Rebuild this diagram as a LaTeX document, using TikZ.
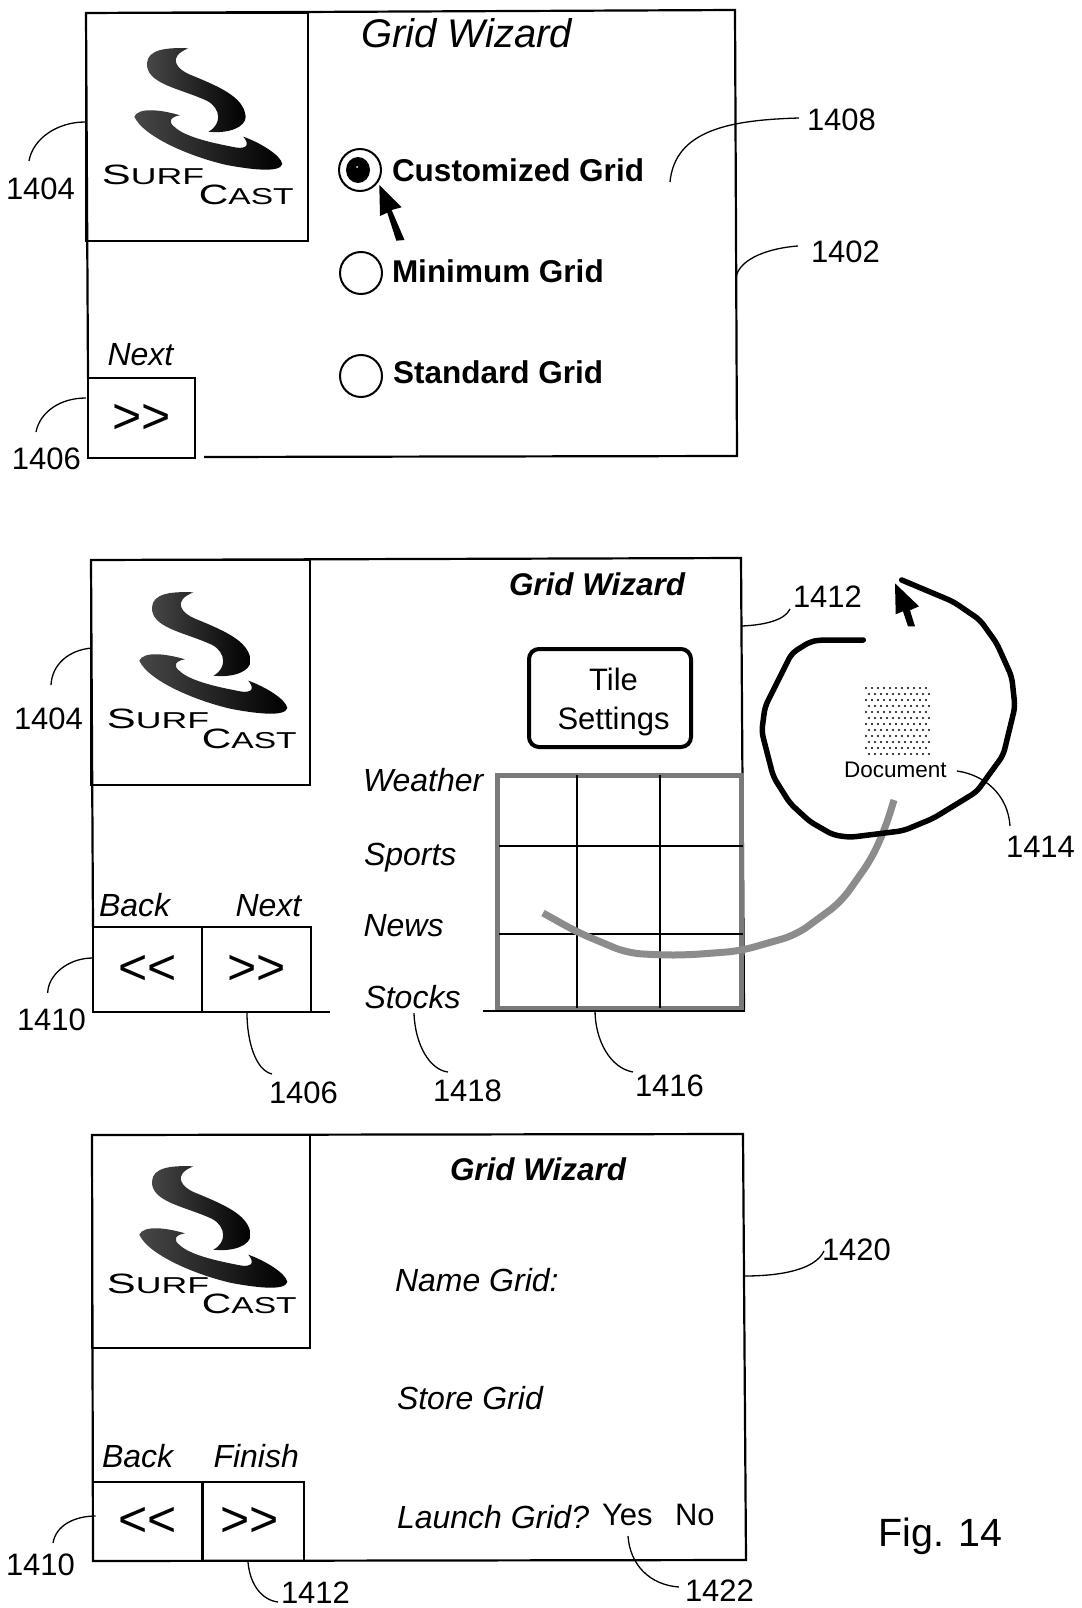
\documentclass[tikz,border=0pt]{standalone}
\usepackage{fontspec}
\setmainfont{Liberation Sans}
\newcommand\fsz[1]{\fontsize{#1}{#1}\selectfont}
\tikzset{
  frameline/.style={draw=black,line width=2.2pt},
  txt/.style={anchor=base west,inner sep=0pt,outer sep=0pt,font=\fsz{31}},
  num/.style={txt},
  ital/.style={txt,font=\fsz{32}\itshape},
  boldtxt/.style={txt,font=\fsz{31.5}\bfseries},
  btn/.style={draw=black,line width=2.2pt,inner sep=0pt,font=\fsz{50},text height=30pt,text depth=0pt,align=center},
  radio/.style={draw=black,line width=2pt,circle,minimum size=42pt,inner sep=0pt},
  logobox/.style={draw=black,line width=2.2pt,rectangle,inner sep=0pt},
  leader/.style={draw=black,line width=1.3pt},
  dragline/.style={draw=black!45,line width=7pt,line join=round},
  bigloop/.style={draw=black,line width=5.5pt,rounded corners=6pt,line cap=round},
  gridband/.style={draw=black!52,line width=5pt},
  gridline/.style={draw=black,line width=2pt},
}
% name, origin x, origin y, CAST shift x, text shift y (crop units)
\newcommand\surflogo[5]{%
  \begin{scope}[shift={(#2,#3)},scale=0.33333]
    \path[left color=black!72,right color=black]
      (325,115) .. controls (260,112) and (203,118) .. (201,160)
      .. controls (198,222) and (300,235) .. (380,272)
      .. controls (425,295) and (425,345) .. (385,365)
      .. controls (450,372) and (497,350) .. (497,320)
      .. controls (492,265) and (430,235) .. (340,198)
      .. controls (285,178) and (262,140) .. (325,115) -- cycle;
    \path[left color=black!72,right color=black]
      (163,320) .. controls (175,292) and (240,298) .. (300,316)
      .. controls (272,320) and (262,335) .. (285,352)
      .. controls (320,385) and (420,403) .. (470,413)
      .. controls (500,416) and (510,405) .. (490,380)
      .. controls (540,398) and (602,435) .. (607,462)
      .. controls (600,490) and (510,478) .. (440,465)
      .. controls (330,440) and (190,380) .. (163,320) -- cycle;
    \node[anchor=base west,inner sep=0pt] (#1surf) at (65,{525+#5})
      {\scalebox{1.55}[1]{\fsz{28}S\fsz{23}URF}};
    \node[anchor=base west,inner sep=0pt] (#1cast) at ({356+#4},{585+#5})
      {\scalebox{1.46}[1]{\fsz{28}C\fsz{23}AST}};
  \end{scope}}
\begin{document}
\begin{tikzpicture}[x=1pt,y=-1pt]
\fill[white] (0,0) rectangle (1081,1608);
\useasboundingbox (0,0) rectangle (1081,1608);

% ---------- Panel 1
\coordinate (fa1) at (86,13);
\coordinate (fa2) at (735,10);
\coordinate (fa3) at (737,456);
\coordinate (fa4) at (204,457);
\coordinate (fa5) at (88,378);
\draw[frameline] (fa5) -- (fa1) -- (fa2) -- (fa3) -- (fa4);
\node[logobox,minimum width=222pt,minimum height=228pt] (logoA) at (197,127) {};
\surflogo{a}{80}{10}{0}{0}
\node[btn,minimum width=107pt,minimum height=80pt] (btnA) at (141.5,418) {>{}>};
\node[txt,font=\fsz{40}\itshape] (titleA) at (361,48) {Grid Wizard};
\node[ital] (nextA) at (107.5,365) {Next};

\node[radio] (radA) at (360,170) {};
\node[radio] (radB) at (361,273) {};
\node[radio] (radC) at (361,376) {};
\fill (358,170) ellipse [x radius=12pt,y radius=13pt];
\fill[white] (357,167) circle [radius=1pt];
\fill (379.3,185) -- (401.6,207.3) -- (391.6,210) -- (404.5,240) -- (396.3,240.7) -- (387.3,212.7) -- (380,216) -- cycle;
\node[boldtxt] (custom) at (392,182) {Customized Grid};
\node[boldtxt] (minim) at (392,282) {Minimum Grid};
\node[boldtxt] (stand) at (393,383) {Standard Grid};

\node[num] (n1408) at (807,131) {1408};
\node[num] (n1402) at (811,262) {1402};
\node[num] (n1404a) at (6,200) {1404};
\node[num] (n1406a) at (12,469) {1406};
\coordinate (e1408a) at (799,118); \coordinate (e1408b) at (670,182);
\draw[leader] (e1408a) .. controls (730,120) and (675,130) .. (e1408b);
\coordinate (e1402a) at (798,246); \coordinate (e1402b) at (736,277);
\draw[leader] (e1402a) .. controls (770,248) and (740,258) .. (e1402b);
\coordinate (e1404a) at (85,122); \coordinate (e1404b) at (29,161);
\draw[leader] (e1404a) .. controls (58,122) and (33,138) .. (e1404b);
\coordinate (e1406a) at (86,398); \coordinate (e1406b) at (36,432);
\draw[leader] (e1406a) .. controls (60,398) and (40,412) .. (e1406b);

% ---------- Panel 2
\coordinate (fb1) at (91,560);
\coordinate (fb2) at (741,558);
\coordinate (fb3) at (744,1010);
\coordinate (fb4) at (93,927);
\coordinate (fb5) at (311,1012);
\coordinate (fb6) at (330,1012);
\coordinate (fb7) at (483,1011);
\draw[frameline] (fb4) -- (fb1) -- (fb2) -- (fb3);
\draw[frameline] (fb5) -- (fb6);
\node[logobox,minimum width=219pt,minimum height=225pt] (logoB) at (200.5,672.5) {};
\surflogo{b}{85}{554}{-6}{-3}
\node[btn,minimum width=109pt,minimum height=85pt] (btnB) at (147.5,969.5) {<{}<};
\node[btn,minimum width=109pt,minimum height=85pt] (btnC) at (256.5,969.5) {>{}>};
\node[txt,font=\fsz{31.4}\bfseries\itshape] (titleB) at (509,595) {Grid Wizard};
\node[ital] (backB) at (99,916) {Back};
\node[ital] (nextB) at (235.5,916) {Next};

\node[draw=black,line width=4pt,rounded corners=10pt,minimum width=162pt,minimum height=98pt,inner sep=0pt] (tile) at (610,698) {};
\node[inner sep=0pt,align=center,font=\fsz{31}] (tiletext) at (613.5,702) {Tile\\[7.5pt]Settings};

\node[ital] (weather) at (363,791) {Weather};
\node[ital] (sports) at (364,865) {Sports};
\node[ital] (news) at (363.5,936) {News};
\node[ital] (stocks) at (364.5,1008) {Stocks};

\coordinate (ga) at (497,775); \coordinate (gb) at (741,775);
\coordinate (gc) at (741,1008); \coordinate (gd) at (497,1008);
\draw[gridband] (ga) -- (gb) -- (gc) -- (gd) -- cycle;
\draw[gridline] (577,775) -- (577,1008);
\draw[gridline] (660,775) -- (660,1008);
\draw[gridline] (499,846) -- (743,846);
\draw[gridline] (499,934) -- (743,934);
\draw[line width=1.6pt] (fb7) -- (745,1011);

\draw[dragline,rounded corners=14pt] (543,913) -- (577,932) -- (627,953) -- (660,955) -- (687,955) -- (740,951) -- (796,935) -- (841,902) -- (872,858) -- (886,826) -- (894,800);

\foreach \r in {0,...,11}{
  \foreach \c in {0,...,10}{
    \pgfmathsetmacro\dx{mod(\r,2)*3}
    \fill (866+\c*6+\dx,688+\r*6) circle [radius=1.1pt];
  }
}
\node[txt,font=\fsz{22.5}] (doc) at (844,777) {Document};
\draw[bigloop] (863.3,640) -- (820,640) -- (810,641.7) -- (791.7,653.3) -- (765,706.7) -- (761.7,731.7) -- (773.3,776.7) -- (790,803.3) -- (810,821.7) -- (833.3,835) -- (850,837.3) -- (903.3,830.7) -- (933.3,818.3) -- (976.7,791.7) -- (1003.3,755) -- (1015,706.7) -- (1011.7,676.7) -- (996.7,643.3) -- (980,620) -- (953.3,601.7) -- (901.7,580);
\fill (895,583.3) -- (919,606.3) -- (910,610.3) -- (915,626.3) -- (908,626.3) -- (903,611.3) -- (895.7,614.3) -- cycle;

\node[num] (n1412a) at (793,607) {1412};
\node[num] (n1414) at (1006,857) {1414};
\node[num] (n1404b) at (14,729) {1404};
\node[num] (n1410a) at (17,1030) {1410};
\node[num] (n1406b) at (269,1103) {1406};
\node[num] (n1418) at (433,1101) {1418};
\node[num] (n1416) at (635,1096) {1416};
\coordinate (e1412a) at (790,609); \coordinate (e1412b) at (742,626);
\draw[leader] (e1412a) .. controls (785,620) and (765,625) .. (e1412b);
\coordinate (e1414a) at (957,771); \coordinate (e1414b) at (1010,826);
\draw[leader] (e1414a) .. controls (985,775) and (1008,795) .. (e1414b);
\coordinate (e1404c) at (92,648); \coordinate (e1404d) at (51,685);
\draw[leader] (e1404c) .. controls (68,650) and (52,665) .. (e1404d);
\coordinate (e1410a) at (92.7,958); \coordinate (e1410b) at (47.7,993);
\draw[leader] (e1410a) .. controls (68,958) and (48,975) .. (e1410b);
\coordinate (e1406c) at (247,1013); \coordinate (e1406d) at (272,1074);
\draw[leader] (e1406c) .. controls (247,1040) and (255,1070) .. (e1406d);
\coordinate (e1418a) at (414,1013); \coordinate (e1418b) at (448,1072);
\draw[leader] (e1418a) .. controls (415,1045) and (430,1070) .. (e1418b);
\coordinate (e1416a) at (595,1010); \coordinate (e1416b) at (633,1072);
\draw[leader] (e1416a) .. controls (595,1040) and (610,1068) .. (e1416b);

% ---------- Panel 3
\coordinate (fc1) at (92,1135);
\coordinate (fc2) at (743,1134);
\coordinate (fc3) at (746,1560);
\coordinate (fc4) at (93,1561);
\draw[frameline] (fc1) -- (fc2) -- (fc3) -- (fc4) -- cycle;
\node[logobox,minimum width=218pt,minimum height=213pt] (logoC) at (201,1241.5) {};
\surflogo{c}{85}{1128}{-6}{-28}
\node[btn,minimum width=109.5pt,minimum height=79pt] (btnD) at (147.75,1521.5) {<{}<};
\node[btn,minimum width=101.5pt,minimum height=79pt] (btnE) at (253.25,1521.5) {\hspace*{-8pt}>{}>};
\node[txt,font=\fsz{31.4}\bfseries\itshape] (titleC) at (450,1180) {Grid Wizard};
\node[ital] (backC) at (102,1467) {Back};
\node[ital] (finish) at (213.5,1467) {Finish};
\node[ital] (namegrid) at (395,1291) {Name Grid:};
\node[ital] (storegrid) at (397,1409) {Store Grid};
\node[ital] (launch) at (397,1528) {Launch Grid?};
\node[txt] (yes) at (602,1525) {Yes};
\node[txt] (no) at (675,1525) {No};
\node[txt,font=\fsz{39.4}] (fig) at (878.5,1546) {Fig. 14};

\node[num] (n1420) at (822,1260) {1420};
\node[num] (n1410b) at (6,1575) {1410};
\node[num] (n1412b) at (281,1603) {1412};
\node[num] (n1422) at (685,1601) {1422};
\coordinate (e1420a) at (824,1251); \coordinate (e1420b) at (744,1276);
\draw[leader] (e1420a) .. controls (815,1270) and (780,1276) .. (e1420b);
\coordinate (e1410c) at (95.7,1516); \coordinate (e1410d) at (53,1543);
\draw[leader] (e1410c) .. controls (75,1516) and (56,1525) .. (e1410d);
\coordinate (e1412c) at (248,1562); \coordinate (e1412d) at (278,1602);
\draw[leader] (e1412c) .. controls (250,1585) and (262,1600) .. (e1412d);
\coordinate (e1422a) at (628,1536); \coordinate (e1422b) at (679,1587);
\draw[leader] (e1422a) .. controls (630,1565) and (650,1585) .. (e1422b);
\end{tikzpicture}
\end{document}
